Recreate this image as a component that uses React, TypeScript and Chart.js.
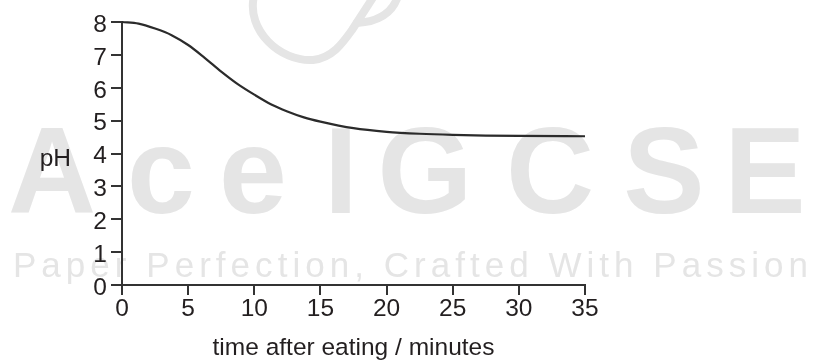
import { useEffect, useRef } from "react";
import { Chart, registerables } from "chart.js";

Chart.register(...registerables);

// ---- data ----
const timeMinutes = [0, 1.25, 2.5, 3.75, 5, 6.25, 7.5, 8.75, 10, 11.25, 12.5, 13.75, 15, 17.5, 20, 22.5, 25, 27.5, 30, 35];
const pHValues = [8.0, 7.95, 7.8, 7.6, 7.3, 6.91, 6.49, 6.11, 5.79, 5.5, 5.28, 5.1, 4.97, 4.77, 4.66, 4.6, 4.565, 4.545, 4.535, 4.525];
const xTickValues = [0, 5, 10, 15, 20, 25, 30, 35];
const yTickValues = [0, 1, 2, 3, 4, 5, 6, 7, 8];
const xAxisTitle = "time after eating / minutes";
const yAxisTitle = "pH";
const watermarkBig = "AceIGCSE";
const watermarkSmall = "Paper Perfection, Crafted With Passion";

const FONT = "'Liberation Sans', Arial, Helvetica, sans-serif";
const INK = "#231f20";
const AXIS = "#333333";
const WM = "#e5e5e5";

const watermarkPlugin = {
  id: "watermark",
  beforeDraw(chart: any) {
    const ctx: CanvasRenderingContext2D = chart.ctx;
    ctx.save();
    ctx.fillStyle = WM;
    ctx.strokeStyle = WM;
    // logo fragment at top
    ctx.lineWidth = 8;
    ctx.lineCap = "round";
    ctx.lineJoin = "round";
    ctx.beginPath();
    ctx.moveTo(254, -4);
    ctx.bezierCurveTo(246, 30, 280, 62, 313, 60);
    ctx.bezierCurveTo(332, 58, 342, 44, 352, 30);
    ctx.lineTo(374, -4);
    ctx.stroke();
    ctx.beginPath();
    ctx.moveTo(357, 23);
    ctx.quadraticCurveTo(390, 21, 398, -4);
    ctx.stroke();

    // big letters
    const centers = [52, 161, 253, 341, 425, 550, 664, 765];
    ctx.font = `bold 122px ${FONT}`;
    ctx.textAlign = "center";
    ctx.textBaseline = "alphabetic";
    watermarkBig.split("").forEach((ch, i) => {
      ctx.fillText(ch, centers[i], 213);
    });

    // tagline with letter spacing
    ctx.font = `35px ${FONT}`;
    ctx.textAlign = "left";
    const chars = watermarkSmall.split("");
    const widths = chars.map((c) => ctx.measureText(c).width);
    const total = widths.reduce((a, b) => a + b, 0);
    const start = 13;
    const end = 808;
    const sp = (end - start - total) / (chars.length - 1);
    let x = start;
    chars.forEach((c, i) => {
      ctx.fillText(c, x, 277);
      x += widths[i] + sp;
    });
    ctx.restore();
  },
  afterDraw(chart: any) {
    const ctx: CanvasRenderingContext2D = chart.ctx;
    const { chartArea, scales } = chart;
    ctx.save();
    ctx.fillStyle = INK;
    ctx.font = `24.5px ${FONT}`;
    ctx.textBaseline = "alphabetic";
    ctx.textAlign = "right";
    ctx.fillText(yAxisTitle, 71, scales.y.getPixelForValue(4) + 12);
    ctx.textAlign = "center";
    ctx.fillText(xAxisTitle, (chartArea.left + chartArea.right) / 2, 355);
    ctx.restore();
  },
};

export default function App() {
  const ref = useRef<HTMLCanvasElement | null>(null);

  useEffect(() => {
    if (!ref.current) return;
    const points = timeMinutes.map((t, i) => ({ x: t, y: pHValues[i] }));
    const chart = new Chart(ref.current, {
      type: "line",
      data: {
        datasets: [
          {
            data: points,
            borderColor: "#2b2b2b",
            borderWidth: 2.2,
            pointRadius: 0,
            fill: false,
            cubicInterpolationMode: "monotone",
            clip: false as any,
          },
        ],
      },
      options: {
        animation: false,
        responsive: false,
        maintainAspectRatio: false,
        events: [],
        layout: { padding: { left: 0, top: 22, right: 229, bottom: 0 } },
        plugins: {
          legend: { display: false },
          tooltip: { enabled: false },
          title: { display: false },
        },
        scales: {
          x: {
            type: "linear",
            min: 0,
            max: 35,
            afterBuildTicks: (s: any) => {
              s.ticks = xTickValues.map((v) => ({ value: v }));
            },
            afterFit: (s: any) => {
              s.height = 76;
              s.paddingLeft = 0;
              s.paddingRight = 0;
            },
            ticks: {
              color: INK,
              font: { family: FONT, size: 24.5 },
              padding: 0,
              maxRotation: 0,
              autoSkip: false,
            },
            grid: {
              drawOnChartArea: false,
              drawTicks: true,
              tickLength: 10,
              color: AXIS,
              lineWidth: 2,
            },
            border: { display: true, color: AXIS, width: 2 },
          },
          y: {
            type: "linear",
            min: 0,
            max: 8,
            afterBuildTicks: (s: any) => {
              s.ticks = yTickValues.map((v) => ({ value: v }));
            },
            afterFit: (s: any) => {
              s.width = 122;
              s.paddingTop = 0;
              s.paddingBottom = 0;
            },
            ticks: {
              color: INK,
              font: { family: FONT, size: 24.5 },
              padding: 4,
              labelOffset: 3,
              autoSkip: false,
            },
            grid: {
              drawOnChartArea: false,
              drawTicks: true,
              tickLength: 11,
              color: AXIS,
              lineWidth: 2,
            },
            border: { display: true, color: AXIS, width: 2 },
          },
        },
      },
      plugins: [watermarkPlugin],
    });
    return () => chart.destroy();
  }, []);

  return (
    <div style={{ position: "absolute", left: 0, top: 0, width: 814, height: 361, background: "#fff" }}>
      <canvas ref={ref} width={814} height={361} style={{ display: "block" }} />
    </div>
  );
}
